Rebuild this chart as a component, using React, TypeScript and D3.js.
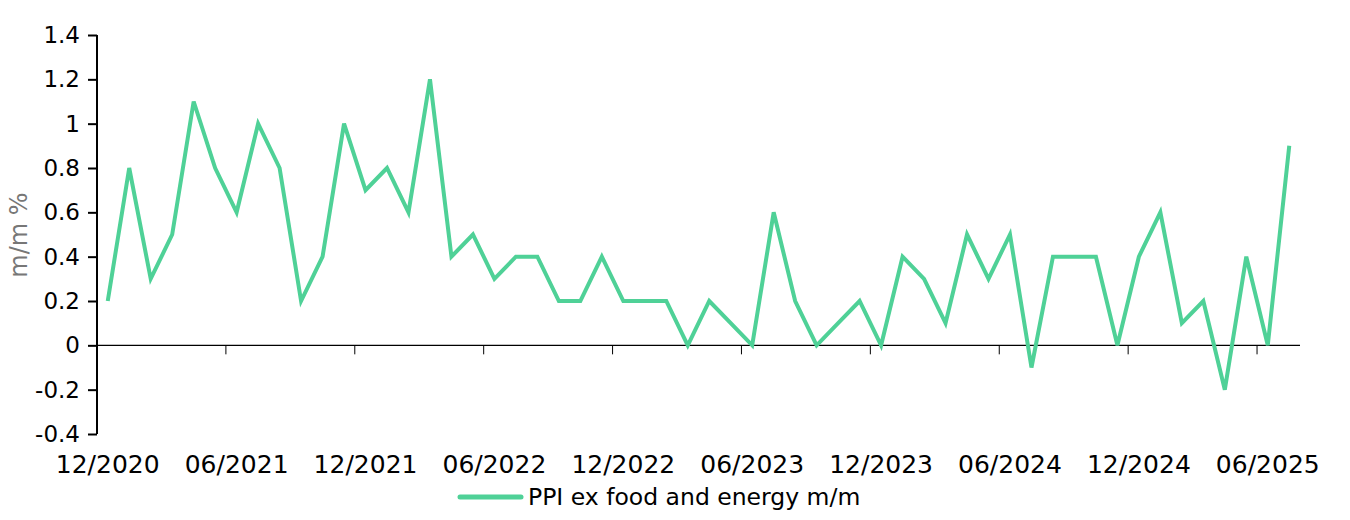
import { useEffect, useRef } from 'react'
import * as d3 from 'd3'

const W = 1350
const H = 520

// monthly, 12/2020 .. 07/2025
const months = [
  '12/2020', '01/2021', '02/2021', '03/2021', '04/2021', '05/2021', '06/2021', '07/2021',
  '08/2021', '09/2021', '10/2021', '11/2021', '12/2021', '01/2022', '02/2022', '03/2022',
  '04/2022', '05/2022', '06/2022', '07/2022', '08/2022', '09/2022', '10/2022', '11/2022',
  '12/2022', '01/2023', '02/2023', '03/2023', '04/2023', '05/2023', '06/2023', '07/2023',
  '08/2023', '09/2023', '10/2023', '11/2023', '12/2023', '01/2024', '02/2024', '03/2024',
  '04/2024', '05/2024', '06/2024', '07/2024', '08/2024', '09/2024', '10/2024', '11/2024',
  '12/2024', '01/2025', '02/2025', '03/2025', '04/2025', '05/2025', '06/2025', '07/2025',
]

const ppiCore = [
  0.2, 0.8, 0.3, 0.5, 1.1, 0.8, 0.6, 1.0, 0.8, 0.2, 0.4, 1.0, 0.7, 0.8, 0.6, 1.2,
  0.4, 0.5, 0.3, 0.4, 0.4, 0.2, 0.2, 0.4, 0.2, 0.2, 0.2, 0.0, 0.2, 0.1, 0.0, 0.6,
  0.2, 0.0, 0.1, 0.2, 0.0, 0.4, 0.3, 0.1, 0.5, 0.3, 0.5, -0.1, 0.4, 0.4, 0.4, 0.0,
  0.4, 0.6, 0.1, 0.2, -0.2, 0.4, 0.0, 0.9,
]

const yTicks = [-0.4, -0.2, 0, 0.2, 0.4, 0.6, 0.8, 1, 1.2, 1.4]
const labelEvery = 6

const LINE = '#4fd197'
const FONT = '"DejaVu Sans", Verdana, sans-serif'

export default function App() {
  const ref = useRef<SVGSVGElement>(null)

  useEffect(() => {
    if (!ref.current) return
    d3.select(ref.current).selectAll('*').remove()
    render(ref.current)
  }, [])

  return (
    <svg
      ref={ref}
      width={W}
      height={H}
      style={{ position: 'absolute', left: 0, top: 0, display: 'block', background: '#fff' }}
    />
  )
}

function render(el: SVGSVGElement) {
  const svg = d3.select(el).style('font-family', FONT)

  const x = d3.scaleBand<string>().domain(months).range([97, 1300]).padding(0)
  const y = d3.scaleLinear().domain([-0.4, 1.4]).range([434, 35])
  const cx = (m: string) => x(m)! + x.bandwidth() / 2

  // X axis along zero, ticks at band boundaries every 6 months
  svg.append('line')
    .attr('x1', x.range()[0]).attr('x2', x.range()[1])
    .attr('y1', y(0)).attr('y2', y(0))
    .attr('stroke', '#000').attr('stroke-width', 1.2)

  months.forEach((m, i) => {
    if (i % labelEvery === 0 && i > 0) {
      const bx = x(m)!
      svg.append('line')
        .attr('x1', bx).attr('x2', bx)
        .attr('y1', y(0)).attr('y2', y(0) + 9)
        .attr('stroke', '#000').attr('stroke-width', 1)
    }
    if (i % labelEvery === 0) {
      svg.append('text')
        .attr('x', cx(m))
        .attr('y', 473)
        .attr('text-anchor', 'middle')
        .attr('font-size', 25)
        .attr('fill', '#000')
        .text(m)
    }
  })

  // Y axis
  const yAxis = svg.append('g')
    .attr('transform', `translate(97,0)`)
    .call(d3.axisLeft(y).tickValues(yTicks).tickSize(9).tickPadding(8).tickFormat((v) => `${+(+v).toFixed(1)}`))
  yAxis.select('.domain').attr('stroke', '#000').attr('stroke-width', 2)
    .attr('d', `M0,${y(1.4)}V${y(-0.4)}`)
  yAxis.selectAll('line').attr('stroke', '#000').attr('stroke-width', 2)
  yAxis.selectAll('text')
    .attr('font-size', 23)
    .attr('font-family', FONT)
    .attr('fill', '#000')

  // Y axis title
  svg.append('text')
    .attr('transform', `translate(27,235) rotate(-90)`)
    .attr('text-anchor', 'middle')
    .attr('font-size', 24)
    .attr('fill', '#777')
    .text('m/m %')

  // Series
  const line = d3.line<number>()
    .x((_, i) => cx(months[i]))
    .y((d) => y(d))

  svg.append('path')
    .datum(ppiCore)
    .attr('d', line)
    .attr('fill', 'none')
    .attr('stroke', LINE)
    .attr('stroke-width', 4)
    .attr('stroke-linejoin', 'miter')

  // Legend
  svg.append('line')
    .attr('x1', 460).attr('x2', 521)
    .attr('y1', 497).attr('y2', 497)
    .attr('stroke', LINE).attr('stroke-width', 5).attr('stroke-linecap', 'round')
  svg.append('text')
    .attr('x', 528)
    .attr('y', 505)
    .attr('font-size', 23.5)
    .attr('fill', '#000')
    .text('PPI ex food and energy m/m')
}
